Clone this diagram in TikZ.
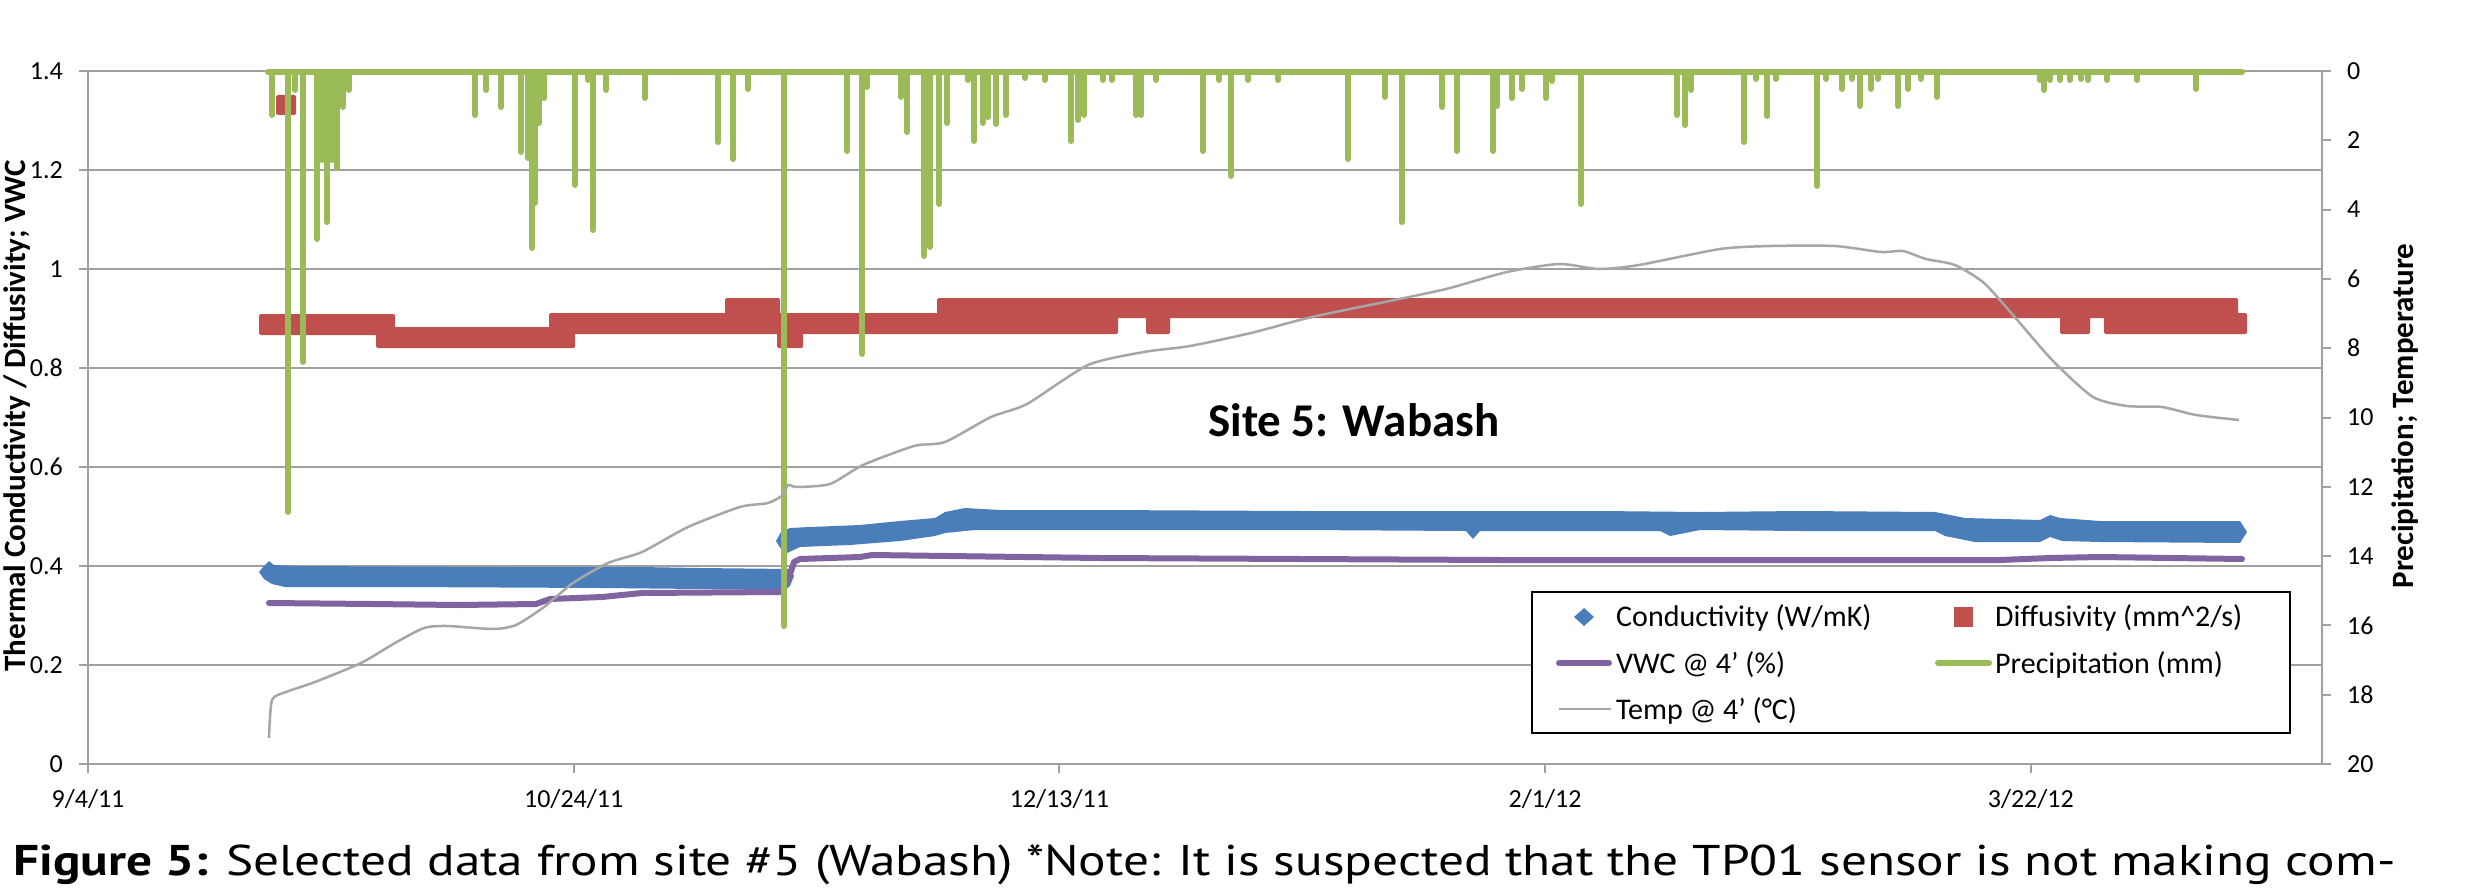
\documentclass[tikz,border=0pt]{standalone}
\usepackage{fontspec}
\setmainfont{Carlito}
\newfontfamily\capfont{PT Sans}
\usepackage{graphicx}
\definecolor{gridgray}{HTML}{A0A0A0}
\definecolor{cblue}{HTML}{4A7EBB}
\definecolor{dred}{HTML}{C0504D}
\definecolor{vpurple}{HTML}{8064A2}
\definecolor{pgreen}{HTML}{9BBB59}
\definecolor{tgray}{HTML}{A6A6A6}
\begin{document}
\begin{tikzpicture}[x=1pt,y=-1pt,
  gridline/.style={draw=gridgray, line width=2pt},
  ticklab/.style={font=\fontsize{26}{30}\selectfont, inner sep=0pt},
  legtext/.style={font=\fontsize{30}{34}\selectfont, inner sep=0pt, anchor=base west},
  axtitle/.style={font=\bfseries\fontsize{31}{36}\selectfont, inner sep=0pt, rotate=90, anchor=base},
  redsq/.style={fill=dred, rounded corners=1.5pt},
  precip/.style={draw=pgreen, line width=6pt, line cap=round, line join=round},
  vwcline/.style={draw=vpurple, line width=6pt, line cap=round, line join=round},
  templine/.style={draw=tgray, line width=2.5pt, line join=round}]
\useasboundingbox (0,0) rectangle (2478,888);
\clip (0,0) rectangle (2478,888);
\fill[white] (0,0) rectangle (2478,888);

% gridlines and axes
\foreach \i in {0,...,7} \draw[gridline] (79,{764-99*\i}) -- (2322,{764-99*\i});
\draw[gridline] (88,71) -- (88,773);
\draw[gridline] (2322,71) -- (2322,764);
\foreach \k in {0,...,10} \draw[gridline] (2322,{71+69.3*\k}) -- (2331,{71+69.3*\k});
\foreach \k in {0,...,4} \draw[gridline] ({88+485.7*\k},764) -- ({88+485.7*\k},773);

% left tick labels
\foreach \i/\lab in {0/0,1/0.2,2/0.4,3/0.6,4/0.8,5/1,6/1.2,7/1.4}
  \node[ticklab, anchor=east] (yl\i) at (63,{764-99*\i}) {\lab};
% right tick labels
\foreach \k in {0,...,10}{
  \pgfmathtruncatemacro{\val}{2*\k}
  \node[ticklab, anchor=west] (yr\k) at (2347,{71+69.3*\k}) {\val};
}
% x tick labels
\node[ticklab, anchor=base] (xl0) at (88,807) {9/4/11};
\node[ticklab, anchor=base] (xl1) at (573.7,807) {10/24/11};
\node[ticklab, anchor=base] (xl2) at (1059.4,807) {12/13/11};
\node[ticklab, anchor=base] (xl3) at (1545.1,807) {2/1/12};
\node[ticklab, anchor=base] (xl4) at (2030.8,807) {3/22/12};

% conductivity band
\fill[cblue] (259,572) -- (264,566) -- (269,561) -- (274,565) -- (300,566) -- (500,567) -- (640,567) -- (700,568) -- (790,569) -- (794,576) -- (790,586) -- (785,590) -- (700,589) -- (600,588) -- (400,587) -- (285,587) -- (272,584) -- (264,579) -- cycle;
\fill[cblue] (776,541) -- (781,532) -- (790,528) -- (810,527) -- (860,525) -- (900,521) -- (935,518) -- (945,512) -- (965,508) -- (1000,510) -- (1100,510) -- (1300,511) -- (1500,511) -- (1600,511) -- (1700,512) -- (1800,511) -- (1935,512) -- (1965,518) -- (2040,520) -- (2050,515) -- (2060,518) -- (2100,521) -- (2240,521) -- (2247,532) -- (2240,543) -- (2100,542) -- (2062,541) -- (2050,537) -- (2040,542) -- (1975,542) -- (1945,536) -- (1935,531) -- (1800,531) -- (1700,530) -- (1670,536) -- (1660,531) -- (1500,531) -- (1480,531) -- (1473,539) -- (1466,531) -- (1300,530) -- (1100,530) -- (975,530) -- (945,533) -- (935,536) -- (900,541) -- (850,545) -- (800,547) -- (787,553) -- (781,549) -- cycle;

% diffusivity
\fill[redsq] (276,95) rectangle (296,115);
\fill[redsq] (259,314) rectangle (395,335);
\fill[redsq] (376,327) rectangle (575,348);
\fill[redsq] (549,313) rectangle (1118,334);
\fill[redsq] (725,298) rectangle (780,318);
\fill[redsq] (777,327) rectangle (803,348);
\fill[redsq] (1146,313) rectangle (1170,334);
\fill[redsq] (937,298) rectangle (2238,318);
\fill[redsq] (2060,313) rectangle (2090,334);
\fill[redsq] (2104,313) rectangle (2247,334);

% VWC
\draw[vwcline] (269,603) -- (372,604) -- (458,605) -- (536,604) -- (550,599) -- (602,597) -- (642,593) -- (780,592) -- (788,580) -- (794,562) -- (800,559) -- (860,557) -- (872,555) -- (1100,558) -- (1500,560) -- (2000,560) -- (2050,558) -- (2100,557) -- (2242,559);

% precipitation
\draw[precip] (268,72) -- (2242,72);
\foreach \x/\d in {272/115,288/512,295/90,303/362,317/239,322/160,327/222,332/160,337/168,343/107,349/90,
  475/115,486/90,501/107,521/152,528/158,532/248,535/203,539/123,544/98,575/185,588/80,593/230,606/90,645/98,
  718/142,733/159,748/89,784/626,847/151,862/354,867/87,901/97,907/132,924/256,930/247,939/204,947/123,
  968/80,974/141,983/123,988/117,996/124,1006/115,1025/78,1045/80,1071/141,1078/120,1084/115,1103/80,1112/80,
  1136/115,1141/115,1156/80,1203/151,1219/80,1231/176,1248/80,1278/80,1348/159,1385/97,1402/222,1442/107,
  1457/151,1493/151,1497/106,1512/98,1522/89,1546/98,1552/81,1581/204,1677/115,1685/125,1691/90,1744/142,
  1756/79,1767/116,1776/79,1817/186,1826/79,1842/89,1852/79,1860/106,1871/89,1878/79,1898/106,1908/89,
  1921/79,1937/97,2040/80,2044/90,2050/80,2060/80,2070/80,2081/79,2088/80,2107/80,2137/80,2196/89}
  \draw[precip] (\x,72) -- (\x,\d);

% temperature
\draw[templine] plot[smooth, tension=0.4] coordinates {(269,738) (272,700) (286,692) (315,682) (361,663) (395,643) (424,628) (447,626) (493,629) (516,625) (544,607) (573,583) (608,563) (642,552) (688,527) (740,507) (768,503) (783,495) (788,485) (797,487) (830,484) (863,465) (914,446) (945,442) (991,417) (1027,404) (1088,365) (1144,352) (1190,346) (1251,333) (1312,317) (1414,296) (1450,288) (1507,272) (1559,264) (1599,269) (1639,265) (1720,249) (1771,246) (1835,246) (1881,252) (1903,251) (1926,259) (1955,265) (1984,283) (2013,315) (2053,361) (2093,397) (2127,406) (2162,407) (2196,415) (2239,420)};

% legend
\draw[black, line width=2pt, fill=white] (1532,592) rectangle (2290,733);
\fill[cblue] (1584,608) -- (1594,617) -- (1584,626) -- (1574,617) -- cycle;
\node[legtext] (lg1) at (1616,626) {Conductivity (W/mK)};
\fill[dred] (1954,607) rectangle (1973,627);
\node[legtext] (lg2) at (1995,626) {Diffusivity (mm\string^2/s)};
\draw[vwcline] (1559,663) -- (1609,663);
\node[legtext] (lg3) at (1616,673) {VWC @ 4' (\%)};
\draw[precip] (1938,663) -- (1989,663);
\node[legtext] (lg4) at (1995,673) {Precipitation (mm)};
\draw[templine] (1559,709) -- (1611,709);
\node[legtext] (lg5) at (1616,719) {Temp @ 4' (°C)};

% titles
\node[font=\bfseries\fontsize{47}{56}\selectfont, inner sep=0pt, anchor=base west] (site) at (1208,436) {Site 5: Wabash};
\node[axtitle] (ytl) at (25,416) {Thermal Conductivity / Diffusivity; VWC};
\node[axtitle] (ytr) at (2413,416) {Precipitation; Temperature};

% caption
\node[inner sep=0pt, anchor=base west] (cap) at (13,875) {\resizebox{2382pt}{\height}{\capfont\fontsize{43}{50}\selectfont\textbf{Figure 5:} Selected data from site \#5 (Wabash) *Note: It is suspected that the TP01 sensor is not making com-}};
\end{tikzpicture}
\end{document}
